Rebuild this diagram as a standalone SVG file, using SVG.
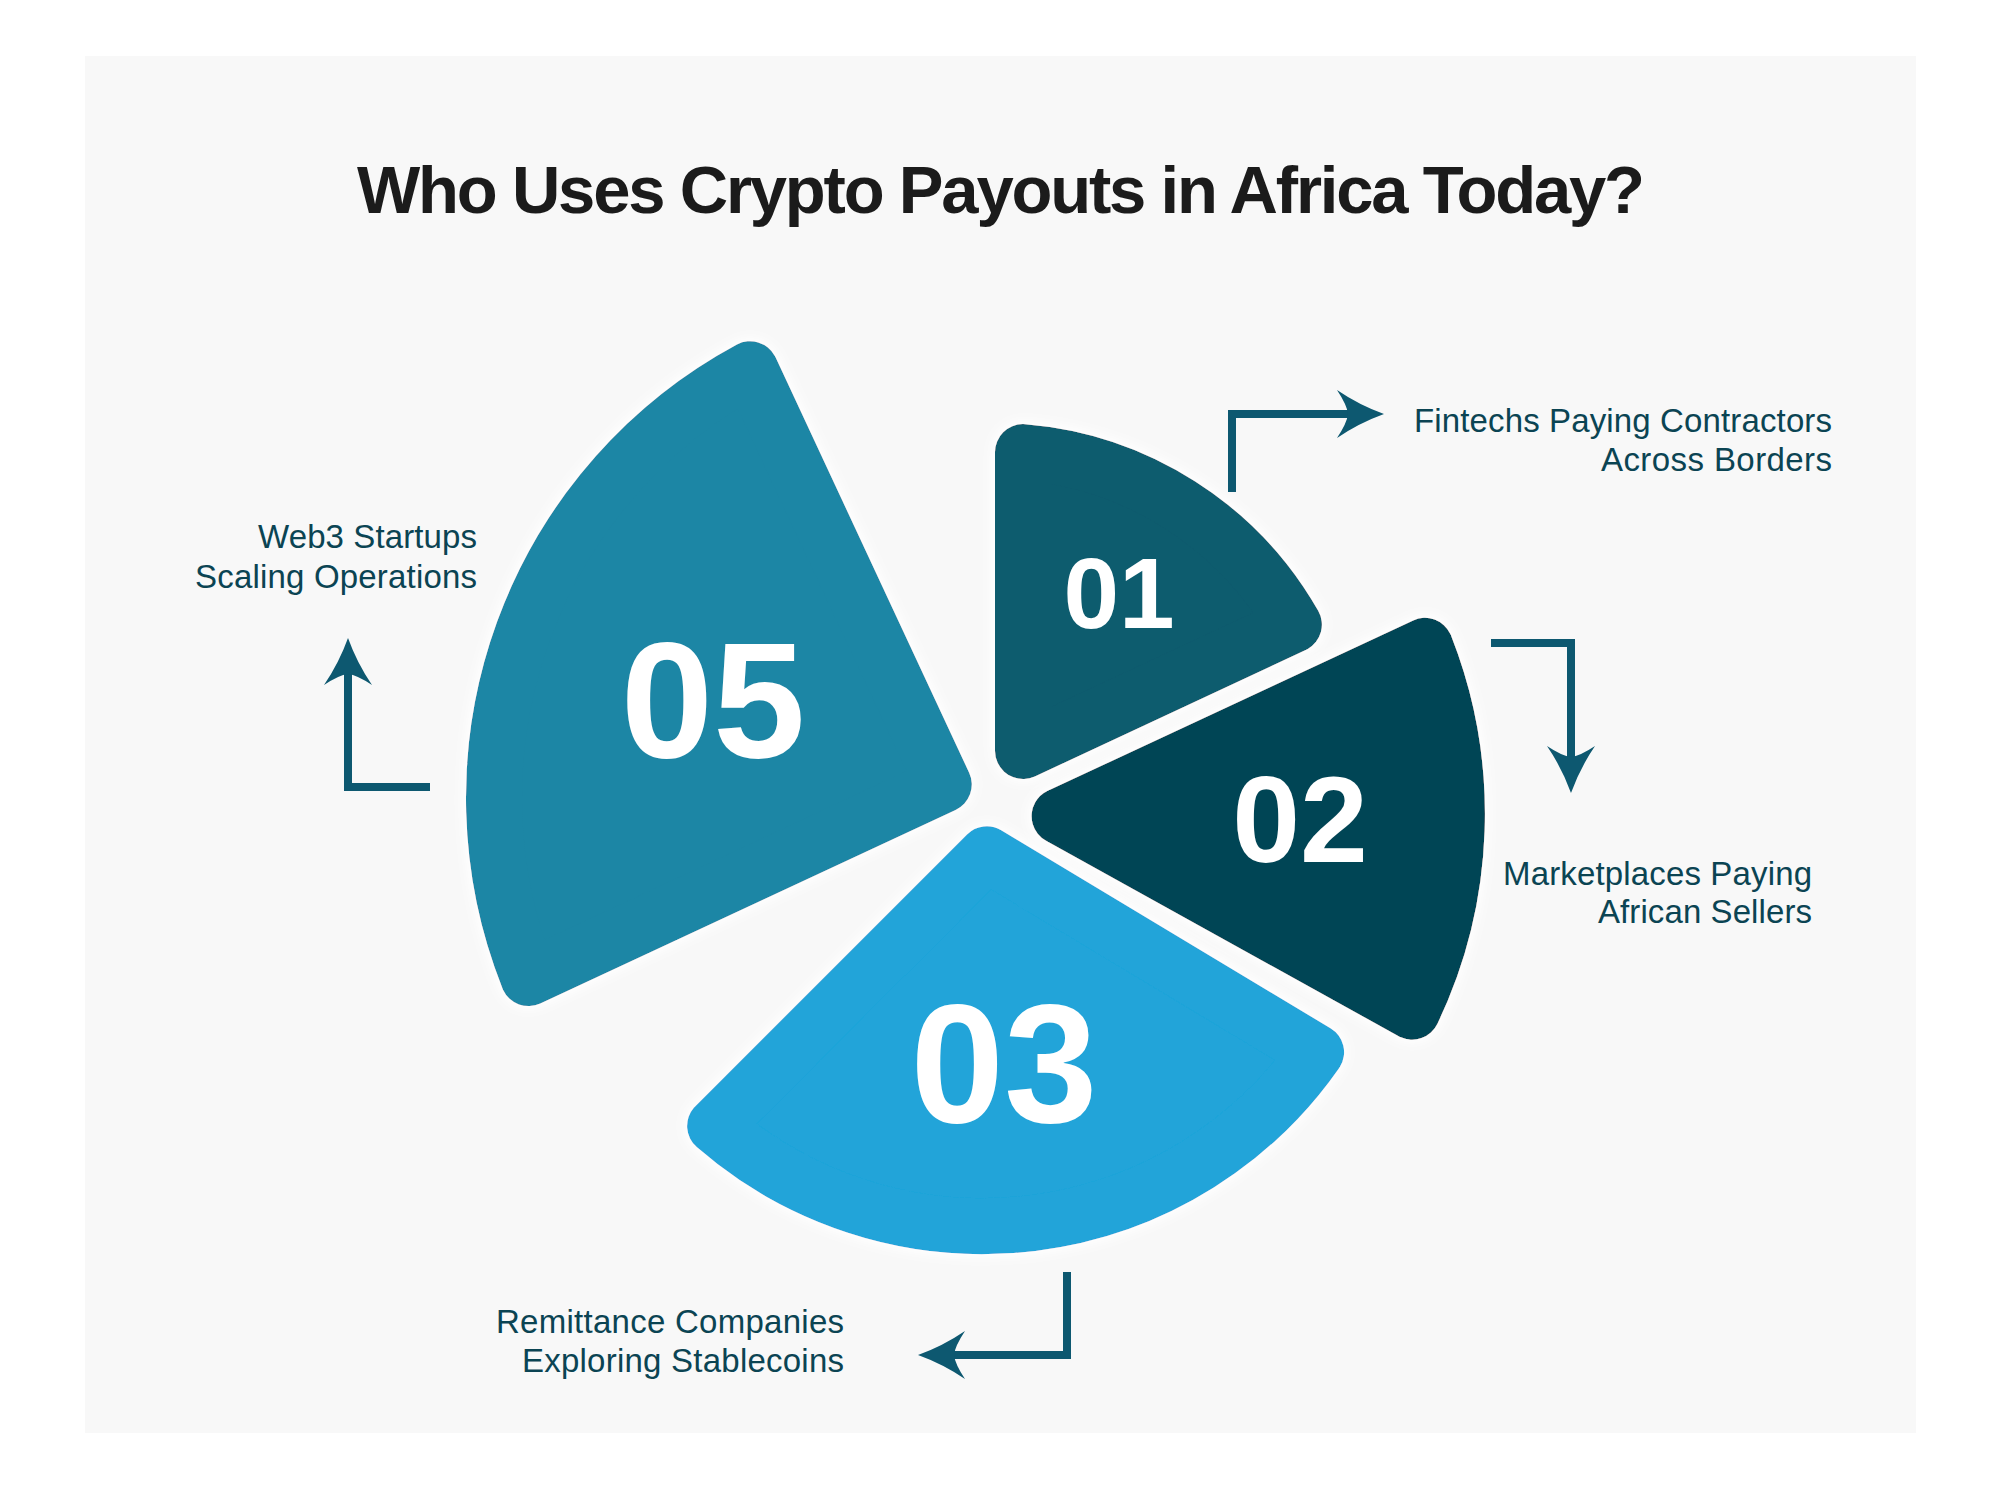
<svg xmlns="http://www.w3.org/2000/svg" width="2000" height="1489" viewBox="0 0 2000 1489">
<defs>
<style>
.title{font-family:"Liberation Sans",Arial,sans-serif;font-weight:700;font-size:67px;fill:#1b1b1b}
.lbl{font-family:"Liberation Sans",Arial,sans-serif;font-size:33px;fill:#0b4453;text-anchor:end}
.num{font-family:"Liberation Sans",Arial,sans-serif;font-weight:700;fill:#ffffff;text-anchor:middle}
.seg{stroke-width:56;stroke-linejoin:round}
.conn{fill:none;stroke:#0d5870;stroke-width:8;marker-end:url(#ah)}
</style>
<marker id="ah" viewBox="0 0 48 48" refX="11" refY="24" markerWidth="48" markerHeight="48" markerUnits="userSpaceOnUse" orient="auto">
<path d="M47,24 Q22,15 0,0 Q10,15 11,24 Q10,33 0,48 Q22,33 47,24 Z" fill="#0d5870"/>
</marker>
<filter id="glow" x="-15%" y="-15%" width="130%" height="130%">
<feGaussianBlur in="SourceAlpha" stdDeviation="7" result="b"/>
<feFlood flood-color="#ffffff"/>
<feComposite in2="b" operator="in" result="w"/>
<feMerge><feMergeNode in="w"/><feMergeNode in="w"/><feMergeNode in="SourceGraphic"/></feMerge>
</filter>
</defs>
<rect x="0" y="0" width="2000" height="1489" fill="#ffffff"/>
<rect x="85" y="56" width="1831" height="1377" fill="#f8f8f8"/>
<text class="title" x="357" y="213" textLength="1288" lengthAdjust="spacing">Who Uses Crypto Payouts in Africa Today?</text>

<g id="seg05" filter="url(#glow)">
<path class="seg" d="M943.8,784.5 L528.5,978.1 A487,487 0 0 1 750.2,369.2 Z" fill="#1f86a5" stroke="#1f86a5"/>
<text class="num" x="713" y="757" font-size="166">05</text>
</g>
<g id="seg01" filter="url(#glow)">
<path class="seg" d="M1023,751 L1023,452.1 A344,344 0 0 1 1293.9,624.7 Z" fill="#0b5b6e" stroke="#0b5b6e"/>
<text class="num" x="1119" y="628" font-size="100">01</text>
</g>
<g id="seg02" filter="url(#glow)">
<path class="seg" d="M1059.6,816.2 L1425,645.8 A459,459 0 0 1 1412.2,1011.7 Z" fill="#044555" stroke="#044555"/>
<text class="num" x="1300" y="862" font-size="122">02</text>
</g>
<g id="seg03" filter="url(#glow)">
<path class="seg" d="M986.8,854.3 L1316.1,1052.2 A407,407 0 0 1 715.1,1126 Z" fill="#20a4d9" stroke="#20a4d9"/>
<text class="num" x="1004" y="1122" font-size="168">03</text>
</g>

<g id="connectors">
<polyline class="conn" points="1232,492 1232,414 1348,414"/>
<polyline class="conn" points="1491,643 1571,643 1571,757"/>
<polyline class="conn" points="1067,1272 1067,1355 954,1355"/>
<polyline class="conn" points="430,787 348,787 348,674"/>
</g>

<g id="label01">
<text class="lbl" x="1832" y="432" textLength="418" lengthAdjust="spacing">Fintechs Paying Contractors</text>
<text class="lbl" x="1832" y="471" textLength="231" lengthAdjust="spacing">Across Borders</text>
</g>
<g id="label02">
<text class="lbl" x="1812" y="885" textLength="309" lengthAdjust="spacing">Marketplaces Paying</text>
<text class="lbl" x="1812" y="923" textLength="214" lengthAdjust="spacing">African Sellers</text>
</g>
<g id="label03">
<text class="lbl" x="844" y="1333" textLength="348" lengthAdjust="spacing">Remittance Companies</text>
<text class="lbl" x="844" y="1372" textLength="322" lengthAdjust="spacing">Exploring Stablecoins</text>
</g>
<g id="label05">
<text class="lbl" x="477" y="548" textLength="219" lengthAdjust="spacing">Web3 Startups</text>
<text class="lbl" x="477" y="588" textLength="282" lengthAdjust="spacing">Scaling Operations</text>
</g>
</svg>
